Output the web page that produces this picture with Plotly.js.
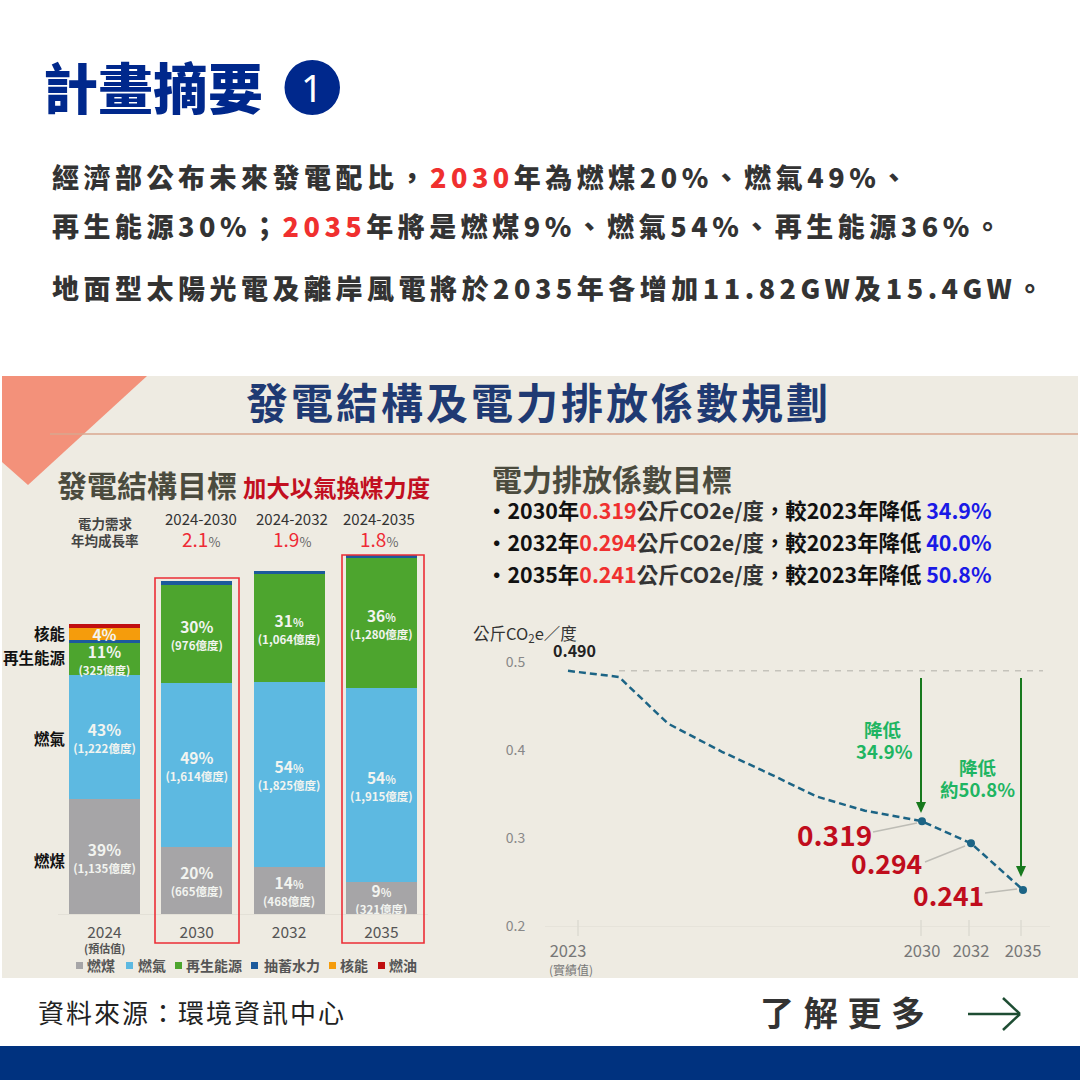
<!DOCTYPE html>
<html>
<head>
<meta charset="utf-8">
<script src="https://cdn.plot.ly/plotly-3.0.1.min.js"></script>
<style>html,body{margin:0;padding:0;background:#fff}#chart{width:1080px;height:1080px}</style>
</head>
<body>
<div id="chart"></div>
<script>
// ---- stacked bars: generation, 億度
const years = ['2024', '2030', '2032', '2035'];
const coal = [1135, 665, 468, 321];
const gas = [1222, 1614, 1825, 1915];
const renewable = [325, 976, 1064, 1280];
const pumped = [25, 35, 35, 35];
const nuclear = [115, 0, 0, 0];
const oil = [45, 0, 0, 0];
const coalPct = ['39', '20', '14', '9'];
const gasPct = ['43', '49', '54', '54'];
const renewablePct = ['11', '30', '31', '36'];
const nuclearPct = ['4', '', '', ''];
const seriesNames = ['燃煤', '燃氣', '再生能源', '抽蓄水力', '核能', '燃油'];
const seriesColors = ['#A6A5A7', '#5DB9E1', '#4DA52E', '#1C5A9C', '#F59C0C', '#C00E10'];
const growthPeriods = ['2024-2030', '2024-2032', '2024-2035'];
const growthRates = ['2.1', '1.9', '1.8'];

// ---- emission factor line (position on a stretched time axis, kg CO2e / kWh)
const linePos = [2.3, 7.4, 12.3, 17.7, 22.45, 27.2, 32, 37.7, 42.6, 47.8];
const lineVal = [0.490, 0.483, 0.430, 0.398, 0.373, 0.347, 0.331, 0.319, 0.294, 0.241];
const targetPos = [37.7, 42.6, 47.8];
const targetVal = [0.319, 0.294, 0.241];
const targetYears = ['2030', '2032', '2035'];
const baselinePos = [7.4, 49.8];
const baselineVal = [0.49, 0.49];
const tickPos = [2.3, 37.7, 42.6, 47.8];
const tickText = ['2023', '2030', '2032', '2035'];
const reductions = ['34.9%', '40.0%', '50.8%'];

const CJK = '"Noto Sans CJK TC","Noto Sans",sans-serif';
const W = 1080, H = 1080;
const X = p => p / W, Y = p => 1 - p / H;

// ---- bars
const fmt = n => n.toLocaleString('en-US');
const pctHtml = (p, i) => p === '' ? '' :
  (i >= 2 ? `<span style="font-size:15.5px"><b>${p}</b></span><span style="font-size:11px"><b>%</b></span>`
          : `<span style="font-size:15.5px"><b>${p}%</b></span>`);
const barLabel = (pcts, vals) => pcts.map((p, i) =>
  `${pctHtml(p, i)}<br><span style="font-size:11.5px"><b>(${fmt(vals[i])}億度)</b></span>`);
const barSeries = [
  [coal, barLabel(coalPct, coal)],
  [gas, barLabel(gasPct, gas)],
  [renewable, barLabel(renewablePct, renewable)],
  [pumped, null],
  [nuclear, nuclearPct.map(pctHtml)],
  [oil, null]
];
const traces = barSeries.map((s, k) => ({
  type: 'bar', x: years, y: s[0], name: seriesNames[k], xaxis: 'x', yaxis: 'y',
  marker: {color: seriesColors[k], line: {width: 0}},
  text: s[1] || undefined,
  textposition: s[1] ? 'inside' : 'none',
  insidetextanchor: 'middle', textangle: 0, constraintext: 'none',
  insidetextfont: {family: CJK, size: 13, color: '#F2F4F0'},
  hoverinfo: 'skip', showlegend: false
}));

// ---- line
traces.push({
  type: 'scatter', mode: 'lines', x: baselinePos, y: baselineVal, xaxis: 'x2', yaxis: 'y2',
  line: {color: '#C5C3BB', width: 1.5, dash: '6px,6px'}, showlegend: false, hoverinfo: 'skip'
});
traces.push({
  type: 'scatter', mode: 'lines', x: linePos, y: lineVal, xaxis: 'x2', yaxis: 'y2',
  line: {color: '#1C6485', width: 2.5, dash: '7px,4px'}, showlegend: false, hoverinfo: 'skip'
});
traces.push({
  type: 'scatter', mode: 'markers', x: targetPos, y: targetVal, text: targetYears, xaxis: 'x2', yaxis: 'y2',
  marker: {color: '#1C6485', size: 8}, showlegend: false, hoverinfo: 'skip'
});

// ---- text
const annotations = [];
const spacing = {}, weights = {};
function T(text, x, y, o = {}) {
  annotations.push({
    text, xref: 'paper', yref: 'paper', x: X(x), y: Y(y), showarrow: false,
    xanchor: o.anchor || 'left', yanchor: 'middle', align: o.anchor === 'center' ? 'center' : (o.anchor || 'left'),
    borderpad: 0, borderwidth: 0,
    font: {family: o.family || CJK, size: o.size || 14, color: o.color || '#333'}
  });
  if (o.ls) spacing[annotations.length - 1] = o.ls;
  if (o.weight) weights[annotations.length - 1] = o.weight;
}
const red = s => `<span style="color:#F0302F">${s}</span>`;
T('<b>計畫摘要</b>', 43, 85, {size: 55, color: '#00288C', weight: 900});
T('1', 312, 87, {anchor: 'center', size: 38, color: '#fff', family: '"Noto Sans",sans-serif'});
T(`<b>經濟部公布未來發電配比，${red('2030')}年為燃煤20%、燃氣49%、</b>`, 52, 176, {size: 27, ls: 4.5, weight: 900});
T(`<b>再生能源30%；${red('2035')}年將是燃煤9%、燃氣54%、再生能源36%。</b>`, 52, 225, {size: 27, ls: 4.5, weight: 900});
T('<b>地面型太陽光電及離岸風電將於2035年各增加11.82GW及15.4GW。</b>', 52, 287, {size: 27, ls: 4.5, weight: 900});

T('<b>發電結構及電力排放係數規劃</b>', 246, 401, {size: 42, color: '#1F3A73', ls: 3});
T('<b>發電結構目標</b>', 57, 484, {size: 30, color: '#4B4B3E'});
T('<b>加大以氣換煤力度</b>', 243, 487, {size: 23.4, color: '#C20F1F'});
T('<b>電力排放係數目標</b>', 492, 478, {size: 30, color: '#4B4B3E'});
[['2030', '0.319', 0], ['2032', '0.294', 1], ['2035', '0.241', 2]].forEach((r, i) => {
  const y = 509.5 + i * 32;
  T(`<b>・${r[0]}年<span style="color:#F0302F">${r[1]}</span><span style="color:#333">公斤CO2e/度</span>，較2023年降低 <span style="color:#1A1AE6">${reductions[r[2]]}</span></b>`,
    486, y, {size: 21.4, color: '#111'});
});

T('<b>電力需求</b>', 105, 523, {anchor: 'center', size: 13.5, color: '#444'});
T('<b>年均成長率</b>', 105, 540, {anchor: 'center', size: 13.5, color: '#444'});
[200.5, 291.5, 379].forEach((x, i) => {
  T(growthPeriods[i], x, 518.5, {anchor: 'center', size: 15, color: '#333'});
  T(`<span style="color:#EE2A35">${growthRates[i]}</span><span style="font-size:13px">%</span>`, x, 538.5,
    {anchor: 'center', size: 19, color: '#666'});
});
[['核能', 633], ['再生能源', 657], ['燃氣', 737.5], ['燃煤', 859.5]].forEach(l =>
  T(`<b>${l[0]}</b>`, 66, l[1], {anchor: 'right', size: 15.5, color: '#111'}));
T('<b>(預估值)</b>', 104, 947.5, {anchor: 'center', size: 11, color: '#555'});

const legendTextX = [87, 138, 186, 264, 340, 389];
const legendSwatchX = [76, 126, 175, 251, 329, 378];
seriesNames.forEach((n, i) => T(`<b>${n}</b>`, legendTextX[i], 965, {size: 14, color: '#555'}));

T('公斤CO<sub>2</sub>e／度', 473, 633.5, {size: 16.5, color: '#333'});
T('<b>0.490</b>', 574.5, 649.5, {anchor: 'center', size: 16, color: '#222'});
T('(實績值)', 571, 969, {anchor: 'center', size: 12, color: '#777'});
const GREEN = '#1FB562';
T('<b>降低</b>', 883, 728.5, {anchor: 'center', size: 18.5, color: GREEN});
T('<b>34.9%</b>', 884, 751, {anchor: 'center', size: 18.5, color: GREEN});
T('<b>降低</b>', 978, 767, {anchor: 'center', size: 18.5, color: GREEN});
T('<b>約50.8%</b>', 977, 789, {anchor: 'center', size: 18.5, color: GREEN});
const DARKRED = '#C00D1D';
T('<b>0.319</b>', 834, 834, {anchor: 'center', size: 28, color: DARKRED});
T('<b>0.294</b>', 886.5, 862.5, {anchor: 'center', size: 26.5, color: DARKRED});
T('<b>0.241</b>', 948.5, 894.5, {anchor: 'center', size: 26.5, color: DARKRED});

T('資料來源：環境資訊中心', 38, 1011, {size: 26, color: '#222', ls: 2});
T('<b>了解更多</b>', 760, 1011, {size: 34, color: '#333', ls: 9.7});

// ---- shapes
const pathOf = pts => 'M' + pts.map(p => X(p[0]) + ',' + Y(p[1])).join(' L') + ' Z';
const rect = (x0, y0, x1, y1, fill, line, layer, w) => ({
  type: 'rect', xref: 'paper', yref: 'paper', x0: X(x0), x1: X(x1), y0: Y(y0), y1: Y(y1),
  fillcolor: fill, line: {color: line || 'rgba(0,0,0,0)', width: w || 0}, layer: layer || 'below'
});
const seg = (x0, y0, x1, y1, color, w) => ({
  type: 'line', xref: 'paper', yref: 'paper', x0: X(x0), x1: X(x1), y0: Y(y0), y1: Y(y1),
  line: {color, width: w}, layer: 'above'
});
const tri = (x, tip, color) => ({
  type: 'path', xref: 'paper', yref: 'paper', path: pathOf([[x - 5, tip - 11], [x + 5, tip - 11], [x, tip]]),
  fillcolor: color, line: {width: 0}, layer: 'above'
});
const shapes = [
  rect(2, 376, 1078, 978, '#EEEBE2'),
  {type: 'path', xref: 'paper', yref: 'paper', path: pathOf([[2, 376], [147, 376], [28, 485], [2, 462]]),
   fillcolor: '#F3917A', line: {width: 0}, layer: 'below'},
  {...seg(50, 434, 1078, 434, '#D8A78F', 1.5), layer: 'below'},
  rect(0, 1046, 1080, 1080, '#00327F'),
  {type: 'circle', xref: 'paper', yref: 'paper', x0: X(284.5), x1: X(340), y0: Y(60), y1: Y(115),
   fillcolor: '#00288C', line: {width: 0}, layer: 'below'},
  rect(155, 578, 239, 943, 'rgba(0,0,0,0)', '#EC2E36', 'above', 1.6),
  rect(342, 555, 424, 943, 'rgba(0,0,0,0)', '#EC2E36', 'above', 1.6),
  seg(873, 832, 917, 823, '#BDBCB5', 1.5),
  seg(925, 862, 965, 846, '#BDBCB5', 1.5),
  seg(985, 893, 1017, 889, '#BDBCB5', 1.5),
  seg(578, 920, 578, 936, '#DDDBD2', 1.5),
  seg(921, 920, 921, 936, '#DDDBD2', 1.5),
  seg(969, 920, 969, 936, '#DDDBD2', 1.5),
  seg(1021, 920, 1021, 936, '#DDDBD2', 1.5),
  seg(921, 678, 921, 803, '#17791D', 2),
  tri(921, 813, '#17791D'),
  seg(1021, 678, 1021, 867, '#17791D', 2),
  tri(1021, 877, '#17791D'),
  seg(968, 1014, 1019, 1014, '#1E4D33', 2.5),
  seg(1003, 998, 1020, 1014, '#1E4D33', 2.5),
  seg(1003, 1030, 1020, 1014, '#1E4D33', 2.5),
  ...seriesColors.map((c, i) => rect(legendSwatchX[i], 962, legendSwatchX[i] + 7, 969, c, null, 'above'))
];

const layout = {
  width: W, height: H, margin: {l: 0, r: 0, t: 0, b: 0},
  paper_bgcolor: '#fff', plot_bgcolor: 'rgba(0,0,0,0)', showlegend: false,
  barmode: 'stack', bargap: 0.23, font: {family: CJK},
  xaxis: {
    domain: [X(58.3), X(427.5)], anchor: 'y', type: 'category', categoryorder: 'array', categoryarray: years,
    tickfont: {family: CJK, size: 15.5, color: '#555'}, ticks: 'outside', ticklen: 4, tickcolor: 'rgba(0,0,0,0)',
    showline: true, linecolor: '#E3E0D7', linewidth: 1, showgrid: false, zeroline: false, fixedrange: true
  },
  yaxis: {
    domain: [Y(914), Y(545)], anchor: 'x', range: [0, 3646], visible: false, fixedrange: true
  },
  xaxis2: {
    domain: [X(545), X(1050)], anchor: 'y2', range: [0, 50.5], tickmode: 'array', tickvals: tickPos, ticktext: tickText,
    tickfont: {family: CJK, size: 16.5, color: '#777'}, ticks: 'outside', ticklen: 10, tickcolor: 'rgba(0,0,0,0)',
    showline: true, linecolor: '#E6E3DA', linewidth: 1, showgrid: false, zeroline: false, fixedrange: true
  },
  yaxis2: {
    domain: [Y(926), Y(640)], anchor: 'x2', range: [0.2, 0.525], tickmode: 'array', tickvals: [0.2, 0.3, 0.4, 0.5],
    ticktext: ['0.2', '0.3', '0.4', '0.5'], tickfont: {family: CJK, size: 14, color: '#888'},
    ticks: 'outside', ticklen: 16, tickcolor: 'rgba(0,0,0,0)',
    showline: false, showgrid: false, zeroline: false, fixedrange: true
  },
  annotations, shapes
};

Plotly.newPlot('chart', traces, layout, {displayModeBar: false, staticPlot: true}).then(() => {
  Object.keys(spacing).forEach(i => {
    document.querySelectorAll(`.annotation[data-index="${i}"] text`).forEach(t => {
      t.style.letterSpacing = spacing[i] + 'px';
    });
  });
  Object.keys(weights).forEach(i => {
    document.querySelectorAll(`.annotation[data-index="${i}"] text, .annotation[data-index="${i}"] text tspan`).forEach(t => {
      t.style.fontWeight = weights[i];
    });
  });
});
</script>
</body>
</html>
